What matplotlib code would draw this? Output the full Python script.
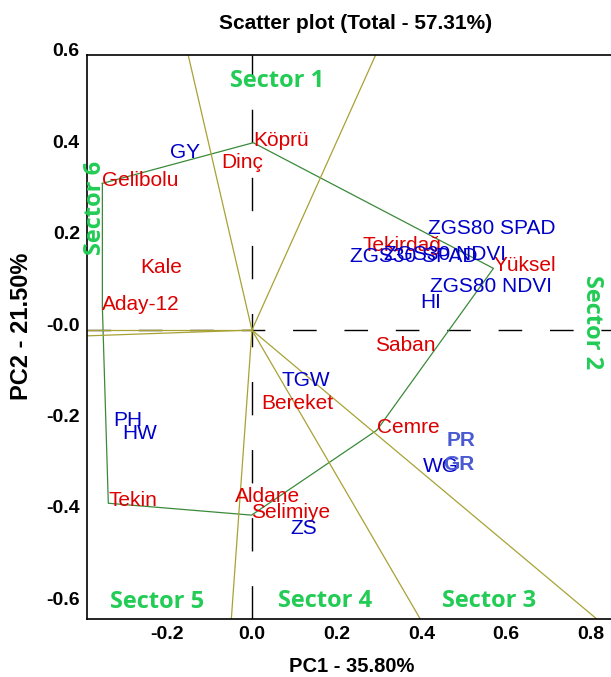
import matplotlib
matplotlib.use("Agg")
import matplotlib.pyplot as plt
import matplotlib.transforms as mtransforms
import numpy as np

# genotype scores on the first two principal components
genotypes = ["Gelibolu", "Köprü", "Dinç", "Kale", "Aday-12", "Tekirdağ", "Yüksel",
             "Saban", "Bereket", "Cemre", "Aldane", "Selimiye", "Tekin"]
geno_pc1 = [-0.353, 0.003, -0.072, -0.264, -0.353, 0.262, 0.570,
            0.290, 0.023, 0.295, -0.040, -0.001, -0.339]
geno_pc2 = [0.321, 0.410, 0.361, 0.131, 0.050, 0.179, 0.135,
            -0.039, -0.167, -0.219, -0.370, -0.405, -0.379]

# trait vectors
traits = ["GY", "ZGS80 SPAD", "ZGS30 SPAD", "ZGS30 NDVI", "ZGS80 NDVI", "HI",
          "TGW", "PH", "HW", "ZS", "PR", "WG", "GR"]
trait_pc1 = [-0.194, 0.416, 0.231, 0.312, 0.420, 0.397,
             0.070, -0.328, -0.305, 0.090, 0.460, 0.404, 0.451]
trait_pc2 = [0.383, 0.216, 0.155, 0.160, 0.089, 0.055,
             -0.115, -0.204, -0.232, -0.440, -0.247, -0.304, -0.300]
trait_light = ["PR", "GR"]

# outer polygon (which-won-where)
hull = ["Gelibolu", "Köprü", "Yüksel", "Cemre", "Selimiye", "Tekin", "Aday-12"]

sectors = ["Sector 1", "Sector 2", "Sector 3", "Sector 4", "Sector 5", "Sector 6"]
sector_xy = [(0.059, 0.545), (0.802, 0.018), (0.560, -0.594), (0.172, -0.594),
             (-0.225, -0.596), (-0.371, 0.267)]
sector_rot = [0, -90, 0, 0, 0, 90]

xticks = [-0.2, 0.0, 0.2, 0.4, 0.6, 0.8]
xticklabels = ["-0.2", "0.0", "0.2", "0.4", "0.6", "0.8"]
yticks = [0.6, 0.4, 0.2, 0.0, -0.2, -0.4, -0.6]
yticklabels = ["0.6", "0.4", "0.2", "-0.0", "-0.2", "-0.4", "-0.6"]

RED = "#dc0000"
BLUE = "#0000c8"
LIGHT = "#4a5ad2"
GREEN = "#22cc55"
OLIVE = "#a8a234"
POLY = "#3a8a3a"

plt.rcParams["font.family"] = ["Liberation Sans", "DejaVu Sans"]

fig = plt.figure(figsize=(6.11, 6.77), dpi=100)
ax = fig.add_axes([0.1419, 0.0852, 0.8581, 0.8336])
ax.set_xlim(-0.390, 0.8475)
ax.set_ylim(-0.633, 0.602)

# zero lines
ax.axhline(0, color="black", lw=1.0, dashes=(17, 20), zorder=1)
ax.axvline(0, color="black", lw=1.0, dashes=(24, 25), zorder=1)

# polygon and perpendicular rays from origin
pos = {g: np.array([x, y]) for g, x, y in zip(genotypes, geno_pc1, geno_pc2)}
pts = np.array([pos[g] for g in hull + [hull[0]]])
ax.plot(pts[:, 0], pts[:, 1], color=POLY, lw=0.9, zorder=2)
for a, b in zip(hull, hull[1:] + hull[:1]):
    d = pos[b] - pos[a]
    n = np.array([d[1], -d[0]])
    if np.dot(n, (pos[a] + pos[b]) / 2) < 0:
        n = -n
    n = n / np.hypot(*n)
    ax.plot([0, n[0] * 3], [0, n[1] * 3], color=OLIVE, lw=0.9, zorder=2)

for g, x, y in zip(genotypes, geno_pc1, geno_pc2):
    ax.annotate(g, (x, y), xytext=(0, -3), textcoords="offset pixels",
                ha="left", va="baseline", fontsize=15, color=RED, zorder=3)

for t, x, y in zip(traits, trait_pc1, trait_pc2):
    c = LIGHT if t in trait_light else BLUE
    w = "bold" if t in trait_light else "normal"
    ax.annotate(t, (x, y), xytext=(0, -3), textcoords="offset pixels",
                ha="left", va="baseline", fontsize=15, color=c, fontweight=w,
                zorder=4)

for s, (x, y), r in zip(sectors, sector_xy, sector_rot):
    ax.text(x, y, s, ha="center", va="center", rotation=r, fontsize=17,
            color=GREEN, fontweight="bold", family=["Open Sans", "DejaVu Sans"],
            zorder=5)

ax.set_xticks(xticks)
ax.set_xticklabels(xticklabels)
ax.set_yticks(yticks)
ax.set_yticklabels(yticklabels)
ax.tick_params(length=0, labelsize=14, pad=5)
for lab in ax.get_xticklabels() + ax.get_yticklabels():
    lab.set_fontweight("bold")
shift = mtransforms.ScaledTranslation(0, 0.06, fig.dpi_scale_trans)
for lab in ax.get_yticklabels():
    lab.set_transform(lab.get_transform() + shift)

ax.spines["right"].set_visible(False)
for sp in ["left", "bottom", "top"]:
    ax.spines[sp].set_linewidth(1.2)

fig.text(0.582, 0.966, "Scatter plot (Total - 57.31%)", ha="center", va="center",
         fontsize=15, fontweight="bold")
fig.text(0.576, 0.016, "PC1 - 35.80%", ha="center", va="center",
         fontsize=14.5, fontweight="bold")
fig.text(0.036, 0.518, "PC2 - 21.50%", ha="center", va="center", rotation=90,
         fontsize=17, fontweight="bold")

fig.savefig("out.png", dpi=100)
